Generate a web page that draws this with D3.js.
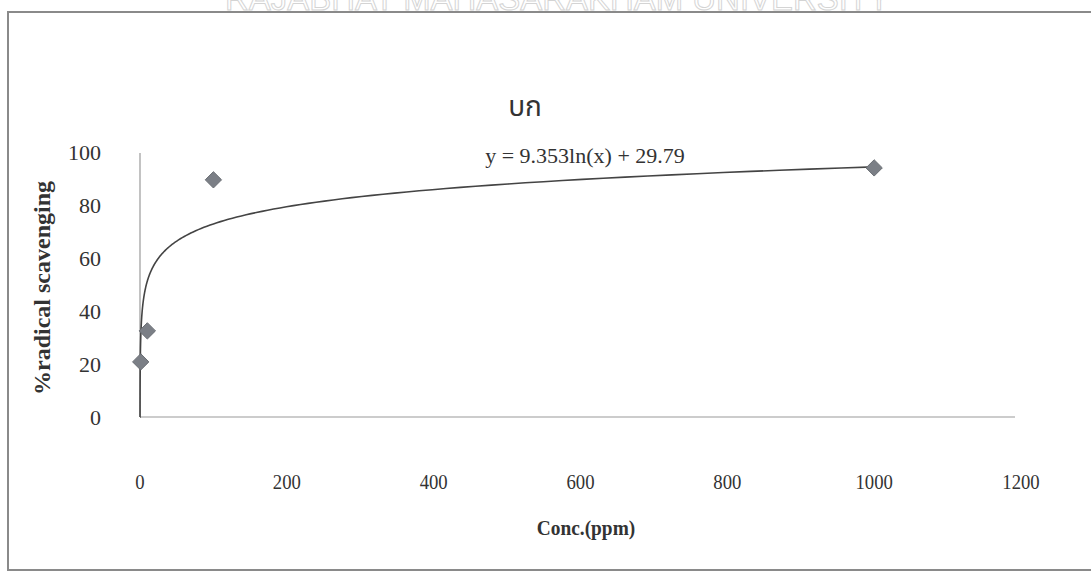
<!DOCTYPE html>
<html>
<head>
<meta charset="utf-8">
<script src="https://cdn.jsdelivr.net/npm/d3@7"></script>
<style>
  body { margin: 0; background: #fff; }
  svg { display: block; }
</style>
</head>
<body>
<div id="chart"></div>
<script>
// data
const conc = [1, 10, 100, 1000];
const scavenging = [20.8, 32.5, 89.5, 94];
const xTicks = [0, 200, 400, 600, 800, 1000, 1200];
const yTicks = [0, 20, 40, 60, 80, 100];
const fitA = 9.353, fitB = 29.79; // trendline y = a ln(x) + b
const chartTitle = "บก";
const fitLabel = "y = 9.353ln(x) + 29.79";

const W = 1091, H = 571;

const svg = d3.select("#chart").append("svg")
    .attr("width", W)
    .attr("height", H);

// faint watermark along the top, cut off by the page edge like in the scan
svg.append("text")
    .attr("x", 225).attr("y", 10)
    .attr("textLength", 665)
    .attr("lengthAdjust", "spacingAndGlyphs")
    .style("font", "34px 'Liberation Sans', Arial, sans-serif")
    .style("fill", "none")
    .style("stroke", "#d4d4d4")
    .style("stroke-width", 1)
    .text("RAJABHAT MAHASARAKHAM UNIVERSITY");

// outer chart border (right side runs off the page)
svg.append("rect")
    .attr("x", 8).attr("y", 12)
    .attr("width", 1100).attr("height", 558)
    .style("fill", "none")
    .style("stroke", "#8a8a8a")
    .style("stroke-width", 2);

let x = d3.scaleLinear().domain([0, 1200]).range([140, 1021]);
let y = d3.scaleLinear().domain([0, 100]).range([417, 152]);

// axis lines
svg.append("line")
    .attr("x1", x(0)).attr("x2", 1015)
    .attr("y1", y(0)).attr("y2", y(0))
    .style("stroke", "#9a9a9a").style("stroke-width", 1.2);
svg.append("line")
    .attr("x1", x(0)).attr("x2", x(0))
    .attr("y1", y(0)).attr("y2", y(100) + 1)
    .style("stroke", "#9a9a9a").style("stroke-width", 1.2);

// tick labels
svg.selectAll(".ytick").data(yTicks).enter().append("text")
    .attr("class", "ytick")
    .attr("x", 101)
    .attr("y", d => y(d))
    .attr("dy", "0.35em")
    .style("text-anchor", "end")
    .style("font", "22px 'Liberation Serif', 'Times New Roman', serif")
    .style("fill", "#333")
    .text(d => d);

svg.selectAll(".xtick").data(xTicks).enter().append("text")
    .attr("class", "xtick")
    .attr("transform", d => "translate(" + x(d) + ",481) scale(0.85,1)")
    .attr("dy", "0.35em")
    .style("text-anchor", "middle")
    .style("font", "22px 'Liberation Serif', 'Times New Roman', serif")
    .style("fill", "#333")
    .text(d => d);

// axis titles
svg.append("text")
    .attr("transform", "translate(42,288) rotate(-90)")
    .attr("dy", "0.35em")
    .style("text-anchor", "middle")
    .style("font", "bold 24px 'Liberation Serif', 'Times New Roman', serif")
    .style("fill", "#333")
    .text("%radical scavenging");

svg.append("text")
    .attr("transform", "translate(586,527) scale(0.88,1)")
    .attr("dy", "0.35em")
    .style("text-anchor", "middle")
    .style("font", "bold 22px 'Liberation Serif', 'Times New Roman', serif")
    .style("fill", "#333")
    .text("Conc.(ppm)");

// title and trendline label
svg.append("text")
    .attr("x", 525).attr("y", 106)
    .attr("dy", "0.35em")
    .style("text-anchor", "middle")
    .style("font", "28px 'Noto Sans Thai', 'Noto Sans', 'DejaVu Sans', sans-serif")
    .style("fill", "#333")
    .text(chartTitle);

svg.append("text")
    .attr("x", 585).attr("y", 155)
    .attr("dy", "0.35em")
    .style("text-anchor", "middle")
    .style("font", "22px 'Liberation Serif', 'Times New Roman', serif")
    .style("fill", "#333")
    .text(fitLabel);

// log trendline from the fitted coefficients
let fitX = d3.range(-2.6, 3.0001, 0.02).map(e => Math.pow(10, e));
let line = d3.line()
    .x(d => x(d))
    .y(d => y(Math.max(0, fitA * Math.log(d) + fitB)));
svg.append("path")
    .datum(fitX)
    .attr("d", line)
    .style("fill", "none")
    .style("stroke", "#444")
    .style("stroke-width", 1.6);

// diamond markers
let points = conc.map((c, i) => ({ c: c, v: scavenging[i] }));
svg.selectAll(".pt").data(points).enter().append("path")
    .attr("class", "pt")
    .attr("transform", d => "translate(" + x(d.c) + "," + y(d.v) + ")")
    .attr("d", d3.symbol().type(d3.symbolDiamond2).size(170))
    .style("fill", "#7b7f86")
    .style("stroke", "#6a6e74")
    .style("stroke-width", 1);
</script>
</body>
</html>
